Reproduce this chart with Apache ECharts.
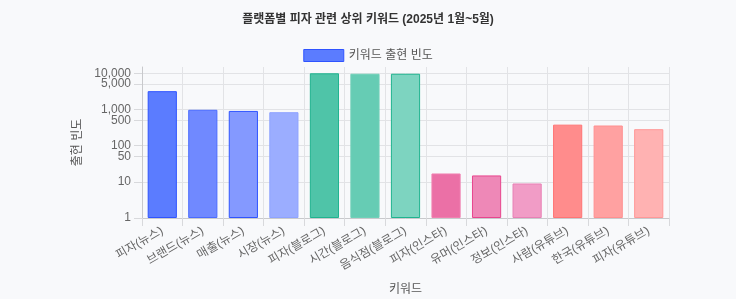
<!DOCTYPE html>
<html>
<head>
<meta charset="utf-8">
<script src="https://cdn.jsdelivr.net/npm/echarts@6/dist/echarts.min.js"></script>
<style>
html,body{margin:0;padding:0;background:#f8f9fb;}
#c{width:736px;height:299px;}
</style>
</head>
<body>
<div id="c"></div>
<script>
const categories = ['피자(뉴스)','브랜드(뉴스)','매출(뉴스)','시장(뉴스)','피자(블로그)','시간(블로그)','음식점(블로그)','피자(인스타)','유머(인스타)','정보(인스타)','사람(유튜브)','한국(유튜브)','피자(유튜브)'];
const counts = [3200, 980, 910, 840, 9990, 9700, 9700, 17, 15, 9, 380, 360, 285];
const yTicks = [1, 10, 50, 100, 500, 1000, 5000, 10000];
const yTicksSecondary = [5000];
const fillColors = ['#5b7cff','#7089ff','#8499ff','#9badff','#4fc4a8','#66ccb4','#7dd4c0','#eb70a6','#ee88b7','#f19cc6','#ff8c8c','#ffa1a1','#ffb2b2'];
const borderColors = ['#2f54ff','#4a6bff','#2f54ff','#8ea3ff','#1fb38f','#6fd0b8','#1fb38f','#f080b0','#e8458e','#e880b5','#ff7474','#ff8f8f','#ff9898'];

const font = "'Helvetica Neue', Arial, 'Liberation Sans', 'Noto Sans CJK KR', sans-serif";
const fmt = v => Number(v).toLocaleString('en-US');
const yMin = 1, yMax = 14900;
const chart = echarts.init(document.getElementById('c'), null, {renderer:'canvas'});
chart.setOption({
  backgroundColor: '#f8f9fb',
  textStyle: {fontFamily: font},
  animation: false,
  title: {
    text: '플랫폼별 피자 관련 상위 키워드 (2025년 1월~5월)',
    left: 'center', top: 9,
    textStyle: {fontSize: 12, fontWeight: 'bold', color: '#333', fontFamily: font}
  },
  legend: {
    top: 44, left: 'center',
    icon: 'rect',
    itemWidth: 40, itemHeight: 12, itemGap: 10,
    textStyle: {fontSize: 12, color: '#555', fontFamily: font},
    data: [{name: '키워드 출현 빈도', itemStyle: {color: '#5b7cff', borderColor: '#2f54ff', borderWidth: 1}}]
  },
  grid: {left: 142, right: 67, top: 67, bottom: 81, containLabel: false, outerBoundsMode: 'none'},
  xAxis: {
    type: 'category',
    data: categories,
    name: '키워드', nameLocation: 'middle', nameGap: 66,
    nameTextStyle: {fontSize: 12, color: '#555', fontFamily: font},
    axisLine: {lineStyle: {color: '#c8c9cc'}},
    axisTick: {show: true, length: 8, lineStyle: {color: '#d8d9dc'}},
    splitLine: {show: true, lineStyle: {color: '#e2e3e6'}},
    axisLabel: {rotate: 30, fontSize: 12, color: '#666', margin: 12, interval: 0, fontFamily: font, hideOverlap: false}
  },
  yAxis: [{
    type: 'log', logBase: 10, min: yMin, max: yMax,
    name: '출현 빈도', nameLocation: 'middle', nameGap: 55,
    nameTextStyle: {fontSize: 12, color: '#555', fontFamily: font},
    axisLine: {show: true, lineStyle: {color: '#c8c9cc'}},
    axisTick: {show: true, length: 8, customValues: yTicks, lineStyle: {color: '#d8d9dc'}},
    splitLine: {show: true, customValues: yTicks, lineStyle: {color: '#e2e3e6'}},
    axisLabel: {customValues: yTicks.filter(v => v !== 5000), fontSize: 12, color: '#666', margin: 11, fontFamily: font,
      hideOverlap: false, formatter: fmt}
  }, {
    type: 'log', logBase: 10, min: yMin, max: yMax, position: 'left', offset: 0,
    axisLine: {show: false}, axisTick: {show: false}, splitLine: {show: false},
    axisLabel: {customValues: yTicksSecondary, fontSize: 12, color: '#666', margin: 11, fontFamily: font, formatter: fmt}
  }],
  series: [{
    name: '키워드 출현 빈도',
    type: 'bar',
    yAxisIndex: 0,
    barWidth: '72%',
    data: counts.map((v, i) => ({value: v, itemStyle: {color: fillColors[i], borderColor: borderColors[i], borderWidth: 1}}))
  }]
});
</script>
</body>
</html>
